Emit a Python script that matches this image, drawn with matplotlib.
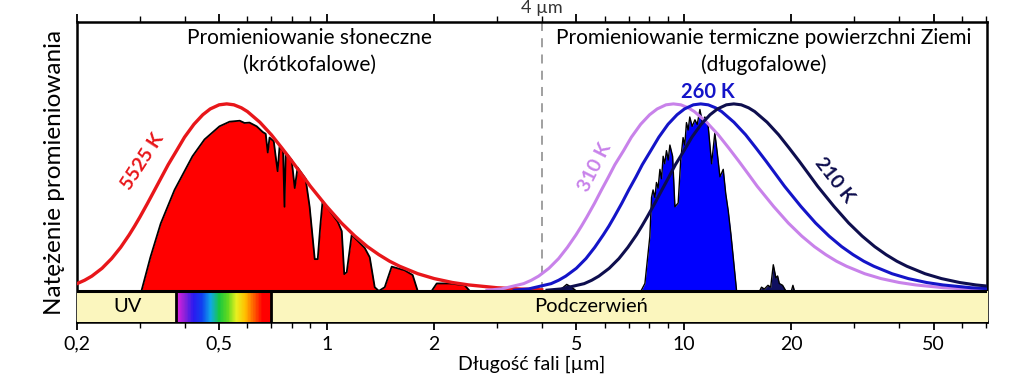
import matplotlib

matplotlib.use("Agg")
import matplotlib.pyplot as plt
import numpy as np
from matplotlib.colors import LinearSegmentedColormap

# ciało doskonale czarne 5525 K (znormalizowane)
SUN_BB_UM = [0.20, 0.21, 0.22, 0.235, 0.25, 0.265, 0.28, 0.29, 0.30, 0.315, 0.33, 0.345, 0.36, 0.38, 0.40,
             0.425, 0.45, 0.472, 0.50, 0.525, 0.55, 0.577, 0.60, 0.65, 0.70, 0.75, 0.80, 0.85, 0.90, 1.0,
             1.1, 1.2, 1.3, 1.4, 1.5, 1.6, 1.8, 2.0, 2.25, 2.5, 3.0, 3.5, 4.0]
SUN_BB_I = [0.039, 0.057, 0.079, 0.121, 0.173, 0.233, 0.300, 0.347, 0.395, 0.468, 0.540, 0.609, 0.675,
            0.750, 0.822, 0.891, 0.942, 0.973, 0.995, 1.000, 0.995, 0.979, 0.959, 0.902, 0.835, 0.763,
            0.693, 0.625, 0.560, 0.452, 0.363, 0.293, 0.237, 0.194, 0.159, 0.132, 0.092, 0.066, 0.045,
            0.032, 0.017, 0.010, 0.006]

# widmo słoneczne przy powierzchni
SOLAR_UM = [0.303, 0.321, 0.343, 0.375, 0.421, 0.455, 0.501, 0.535, 0.571, 0.589, 0.608, 0.637, 0.662,
            0.675, 0.684, 0.692, 0.711, 0.722, 0.729, 0.738, 0.755, 0.762, 0.768, 0.798, 0.814, 0.829,
            0.873, 0.896, 0.926, 0.944, 0.960, 0.974, 1.00, 1.074, 1.102, 1.12, 1.138, 1.175, 1.278,
            1.32, 1.363, 1.40, 1.454, 1.521, 1.654, 1.741, 1.798, 1.968, 2.033, 2.211, 2.435, 2.515]
SOLAR_I = [0.0, 0.18, 0.36, 0.54, 0.72, 0.81, 0.88, 0.905, 0.91, 0.898, 0.90, 0.88, 0.85,
           0.84, 0.74, 0.82, 0.80, 0.70, 0.64, 0.77, 0.75, 0.45, 0.74, 0.70, 0.55, 0.66,
           0.60, 0.45, 0.17, 0.17, 0.35, 0.48, 0.45, 0.37, 0.32, 0.09, 0.10, 0.30, 0.23,
           0.18, 0.02, 0.0, 0.02, 0.13, 0.11, 0.085, 0.0, 0.0, 0.04, 0.04, 0.03, 0.0]

# krzywe Plancka dla Ziemi (znormalizowane)
T310_UM = [2.81, 3.09, 3.56, 3.74, 3.92, 4.19, 4.46, 4.72, 4.99, 5.17, 5.35, 5.62, 5.88, 6.15, 6.41, 6.78,
           7.13, 7.57, 8.02, 8.42, 8.91, 9.35, 9.81, 10.29, 10.70, 11.58, 12.48, 13.37, 14.26, 15.15, 16.04,
           17.83, 19.61, 21.39, 23.19, 24.96, 26.74, 28.53, 32.09, 35.65, 40.11, 44.57, 53.48, 62.36, 71.34]
T310_I = [0.004, 0.011, 0.039, 0.057, 0.079, 0.121, 0.173, 0.233, 0.300, 0.347, 0.395, 0.468, 0.540,
          0.609, 0.675, 0.750, 0.822, 0.891, 0.942, 0.973, 0.995, 1.000, 0.995, 0.979, 0.959, 0.902,
          0.835, 0.763, 0.693, 0.625, 0.560, 0.452, 0.363, 0.293, 0.237, 0.194, 0.159, 0.132, 0.092,
          0.066, 0.045, 0.032, 0.017, 0.010, 0.006]
T260_UM = [3.35, 3.68, 4.25, 4.46, 4.67, 5.00, 5.32, 5.63, 5.95, 6.17, 6.38, 6.70, 7.01, 7.34, 7.65, 8.08,
           8.51, 9.03, 9.57, 10.04, 10.63, 11.15, 11.70, 12.27, 12.76, 13.81, 14.89, 15.94, 17.00, 18.06,
           19.13, 21.26, 23.38, 25.51, 27.65, 29.76, 31.89, 34.02, 38.27, 42.51, 47.83, 53.15, 63.78, 74.37]
T260_I = [0.004, 0.011, 0.039, 0.057, 0.079, 0.121, 0.173, 0.233, 0.300, 0.347, 0.395, 0.468, 0.540,
          0.609, 0.675, 0.750, 0.822, 0.891, 0.942, 0.973, 0.995, 1.000, 0.995, 0.979, 0.959, 0.902,
          0.835, 0.763, 0.693, 0.625, 0.560, 0.452, 0.363, 0.293, 0.237, 0.194, 0.159, 0.132, 0.092,
          0.066, 0.045, 0.032, 0.017, 0.010]
T210_UM = [4.14, 4.55, 5.26, 5.52, 5.78, 6.18, 6.58, 6.97, 7.37, 7.63, 7.89, 8.29, 8.68, 9.08, 9.47, 10.01,
           10.53, 11.18, 11.84, 12.42, 13.15, 13.80, 14.48, 15.18, 15.79, 17.10, 18.42, 19.73, 21.05, 22.36,
           23.68, 26.32, 28.94, 31.57, 34.22, 36.83, 39.47, 42.10, 47.36, 52.62, 59.20, 65.78, 78.94]
T210_I = [0.004, 0.011, 0.039, 0.057, 0.079, 0.121, 0.173, 0.233, 0.300, 0.347, 0.395, 0.468, 0.540,
          0.609, 0.675, 0.750, 0.822, 0.891, 0.942, 0.973, 0.995, 1.000, 0.995, 0.979, 0.959, 0.902,
          0.835, 0.763, 0.693, 0.625, 0.560, 0.452, 0.363, 0.293, 0.237, 0.194, 0.159, 0.132, 0.092,
          0.066, 0.045, 0.032, 0.017]

# promieniowanie wychodzące (okno atmosferyczne)
EARTH_UM = [7.61, 7.78, 8.03, 8.12, 8.20, 8.30, 8.38, 8.47, 8.57, 8.66, 8.75, 8.84, 8.94, 9.04, 9.14,
            9.30, 9.44, 9.64, 9.80, 9.95, 10.06, 10.17, 10.28, 10.39, 10.55, 10.74, 10.90, 11.09, 11.27,
            11.45, 11.70, 11.96, 12.21, 12.40, 12.62, 12.89, 13.10, 13.31, 13.55, 13.75, 14.05]
EARTH_I = [0.005, 0.04, 0.29, 0.50, 0.54, 0.50, 0.58, 0.55, 0.65, 0.60, 0.72, 0.68, 0.75, 0.70, 0.78,
           0.72, 0.45, 0.47, 0.70, 0.82, 0.78, 0.90, 0.86, 0.93, 0.88, 0.915, 0.89, 0.97, 0.90,
           0.93, 0.88, 0.68, 0.845, 0.74, 0.61, 0.65, 0.52, 0.43, 0.30, 0.18, 0.0]
SPIKES_UM = [4.45, 4.60, 4.70, 4.85, 5.00, 16.3, 16.5, 16.8, 17.2, 17.5, 17.8, 18.1, 18.3, 18.5, 18.9,
             19.3, 20.0, 20.2, 20.4]
SPIKES_I = [0.0, 0.02, 0.035, 0.02, 0.0, 0.0, 0.02, 0.01, 0.03, 0.02, 0.14, 0.07, 0.08, 0.04, 0.03,
            0.0, 0.0, 0.03, 0.0]

# pasek zakresów
BAND_EDGES = [0.2, 0.378, 0.70, 72.0]
BAND_LABELS = ["UV", "", "Podczerwień"]
BAND_LABEL_UM = [0.277, None, 5.5]
RAINBOW = ["#E81EE0", "#8A22D8", "#2A1AF0", "#1040F0", "#10A8E8", "#18C840", "#60D820",
           "#E8F020", "#FFC000", "#FF6000", "#FF0000", "#FF0000"]

XTICKS = [0.2, 0.5, 1, 2, 5, 10, 20, 50]
XTICK_LABELS = ["0,2", "0,5", "1", "2", "5", "10", "20", "50"]
XMINOR = [0.3, 0.4, 0.6, 0.7, 0.8, 0.9, 3, 4, 6, 7, 8, 9, 30, 40, 60, 70]

RED = "#E8161A"
VIOLET = "#C882EA"
BLUE = "#1414C8"
NAVY = "#0E0E4E"
YELLOW = "#FBF6BE"
FONT = ["Lato", "DejaVu Sans"]


def main() -> None:
    plt.rcParams.update({"font.family": FONT, "font.size": 13})
    fig = plt.figure(figsize=(10.24, 3.84), dpi=100)
    ax = fig.add_axes([0.0752, 0.1615, 0.8887, 0.7813])
    ax.set_xscale("log")
    xmin, xmax = 0.2, 70.6
    ybot, ytop = -0.166, 1.438
    ax.set_xlim(xmin, xmax)
    ax.set_ylim(ybot, ytop)

    # widma
    ax.fill_between(SOLAR_UM, 0, SOLAR_I, color="#FF0000", lw=0, zorder=2)
    ax.plot(SOLAR_UM, SOLAR_I, color="black", lw=1.3, zorder=3)
    ax.fill_between(EARTH_UM, 0, EARTH_I, color="#0000FF", lw=0, zorder=2)
    ax.plot(EARTH_UM, EARTH_I, color="black", lw=1.0, zorder=3)
    ax.fill_between(SPIKES_UM, 0, SPIKES_I, color="#101060", lw=0, zorder=2)
    ax.plot(SPIKES_UM, SPIKES_I, color="black", lw=1.0, zorder=3)

    ax.axvline(4.0, ymin=(0 - ybot) / (ytop - ybot), color="#999999", lw=1.3, ls=(0, (5, 4)), zorder=1)

    ax.plot(SUN_BB_UM, SUN_BB_I, color=RED, lw=2.4, zorder=4)
    ax.plot(T310_UM, T310_I, color=VIOLET, lw=2.2, zorder=4)
    ax.plot(T260_UM, T260_I, color=BLUE, lw=2.2, zorder=4)
    ax.plot(T210_UM, T210_I, color=NAVY, lw=2.2, zorder=4)

    # pasek: UV / widzialne / podczerwień
    for lo, hi, label, xl in zip(BAND_EDGES[:-1], BAND_EDGES[1:], BAND_LABELS, BAND_LABEL_UM):
        if label:
            ax.fill_between([lo, hi], ybot, 0, color=YELLOW, lw=0, zorder=5)
            ax.text(xl, ybot / 2, label, ha="center", va="center", fontsize=14.5, zorder=7)
    cmap = LinearSegmentedColormap.from_list("vis", RAINBOW)
    xe = np.geomspace(BAND_EDGES[1], BAND_EDGES[2], 160)
    ax.pcolormesh(xe, [ybot, 0], np.linspace(0, 1, 159)[None, :], cmap=cmap, shading="flat", zorder=5)
    ax.axhline(0, color="black", lw=2.2, zorder=6)
    for edge in BAND_EDGES[1:3]:
        ax.plot([edge, edge], [ybot, 0], color="black", lw=2.0, zorder=6)

    # opisy krzywych
    ax.text(0.305, 0.69, "5525 K", color=RED, fontsize=14, fontweight="bold", rotation=57,
            ha="center", va="center", zorder=7)
    ax.text(5.63, 0.66, "310 K", color=VIOLET, fontsize=14, fontweight="bold", rotation=63,
            ha="center", va="center", zorder=7)
    ax.text(11.7, 1.065, "260 K", color=BLUE, fontsize=14.5, fontweight="bold",
            ha="center", va="center", zorder=7)
    ax.text(26.3, 0.594, "210 K", color=NAVY, fontsize=14, fontweight="bold", rotation=-52,
            ha="center", va="center", zorder=7)

    ax.text(0.255, 0.947, "Promieniowanie słoneczne", transform=ax.transAxes, ha="center", va="center", fontsize=15)
    ax.text(0.255, 0.857, "(krótkofalowe)", transform=ax.transAxes, ha="center", va="center", fontsize=15)
    ax.text(0.755, 0.947, "Promieniowanie termiczne powierzchni Ziemi", transform=ax.transAxes,
            ha="center", va="center", fontsize=15)
    ax.text(0.755, 0.857, "(długofalowe)", transform=ax.transAxes, ha="center", va="center", fontsize=15)
    ax.text(4.0, 1.047, "4 µm", transform=ax.get_xaxis_transform(), ha="center", va="center",
            fontsize=13, color="#333333")

    ax.set_xticks(XTICKS, XTICK_LABELS)
    ax.set_xticks(XMINOR, minor=True)
    ax.tick_params(axis="x", which="major", direction="out", length=6, width=1.3, labelsize=14, top=True, pad=4)
    ax.tick_params(axis="x", which="minor", direction="out", length=4, width=1.0, top=True, labelbottom=False)
    ax.set_yticks([])
    for side in ax.spines.values():
        side.set_linewidth(1.8)
    ax.set_xlabel("Długość fali [µm]", fontsize=14, labelpad=2)
    ax.set_ylabel("Natężenie promieniowania", fontsize=17.5, labelpad=9)

    fig.savefig("out.png", dpi=100)
    plt.close(fig)


if __name__ == "__main__":
    main()
